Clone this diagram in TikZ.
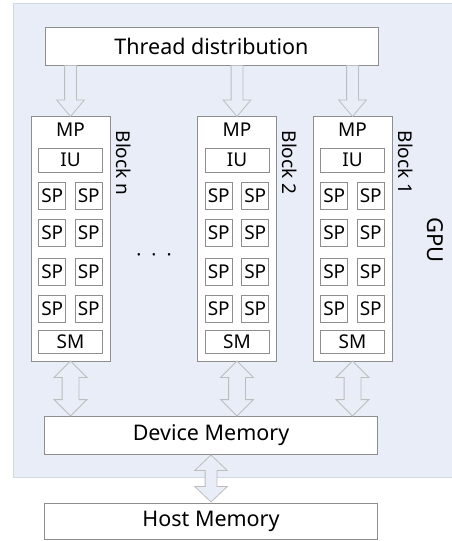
\documentclass[tikz,border=0pt]{standalone}
\usepackage{fontspec}
\setmainfont{Noto Sans}
\usetikzlibrary{calc,positioning,shapes.arrows}
\definecolor{gpubg}{HTML}{E8EDF7}
\definecolor{gpuedge}{HTML}{D2D8E2}
\definecolor{boxline}{HTML}{8E8E8E}
\definecolor{arrline}{HTML}{BDBDBD}

\begin{document}
\begin{tikzpicture}[x=1pt,y=-1pt,
  bigbox/.style={draw=boxline,line width=1pt,fill=white,minimum width=333pt,minimum height=38pt,inner sep=0pt,font=\fontsize{21.5}{24}\selectfont},
  blockbox/.style={draw=boxline,line width=1pt,fill=white,minimum width=79pt,minimum height=245pt,inner sep=0pt},
  unit/.style={draw=boxline,line width=0.8pt,fill=white,inner sep=0pt,minimum height=24pt,font=\fontsize{19}{20}\selectfont},
  wide/.style={unit,minimum width=64pt},
  spbox/.style={unit,minimum width=27pt,minimum height=27pt},
  lbl/.style={inner sep=0pt,font=\fontsize{19}{20}\selectfont},
  blocklbl/.style={lbl,rotate=-90,anchor=west},
  downarr/.style={single arrow,draw=arrline,fill=gpubg,line width=0.8pt,rotate=-90,inner xsep=0pt,inner ysep=5.5pt,outer sep=0pt,
    minimum height=51pt,single arrow head extend=8pt,single arrow tip angle=80},
  botharr/.style={double arrow,draw=arrline,fill=gpubg,line width=0.8pt,rotate=-90,inner xsep=0pt,inner ysep=8pt,outer sep=0pt,
    minimum height=55pt,double arrow head extend=8pt,double arrow tip angle=90}]
  \useasboundingbox (0,0) rectangle (451,541);
  % GPU area
  \fill[gpubg] (13,3) rectangle (452,477);
  \draw[gpuedge,line width=0.8pt] (452,3) -- (13,3) -- (13,477) -- (452,477);
  \node[lbl,rotate=-90,font=\fontsize{22}{24}\selectfont] (gpu) at (435,240) {GPU};
  % memories and distribution
  \node[bigbox] (td) at (211.5,46) {Thread distribution};
  \node[bigbox] (dm) at (211,435) {Device Memory};
  \node[bigbox,minimum height=36pt] (hm) at (211,521) {Host Memory};
  % blocks, centres at x = 70.5, 237, 352.5
  \foreach \cx/\nm/\txt in {70.5/bn/Block n,237/b2/Block 2,352.5/b1/Block 1}{
    \node[blockbox] (\nm) at (\cx,238.5) {};
    \node[lbl] (\nm-mp) at (\cx,130) {MP};
    \node[wide] (\nm-iu) at (\cx,160) {IU};
    \foreach \r/\ry in {1/195.5,2/233,3/271.5,4/308.5}{
      \node[spbox] (\nm-sp\r a) at (\cx-18.25,\ry) {SP};
      \node[spbox] (\nm-sp\r b) at (\cx+18.25,\ry) {SP};
    }
    \node[wide,minimum height=23pt] (\nm-sm) at (\cx,341.5) {SM};
    \node[blocklbl] (\nm-lbl) at ($(\nm.north east)+(13,15)$) {\txt};
  }
  \node[lbl] (dots) at (154,258) {·\hspace{10pt}·\hspace{10pt}·};
  % hollow arrows
  \foreach \nm in {bn,b2,b1}{
    \node[downarr,anchor=tail] (td-\nm) at (td.south -| \nm.north) {};
    \node[botharr] (dm-\nm) at ($(\nm.south)!0.5!(dm.north -| \nm.south)$) {};
  }
  \node[botharr,minimum height=47pt,inner ysep=5.5pt,double arrow head extend=10.5pt,double arrow tip angle=93] (dm-hm) at ($(dm.south)!0.5!(hm.north)$) {};
\end{tikzpicture}
\end{document}
